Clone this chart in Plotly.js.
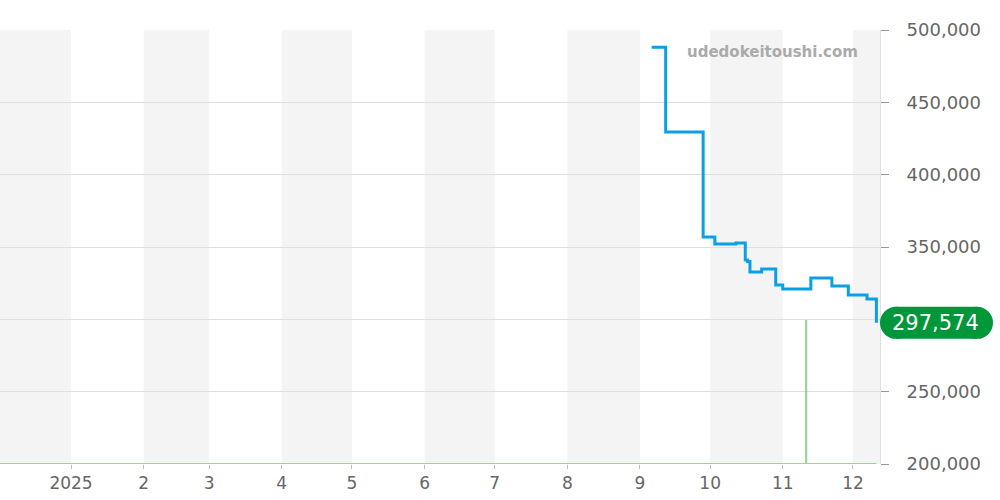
<!DOCTYPE html>
<html>
<head>
<meta charset="utf-8">
<script src="https://cdn.plot.ly/plotly-3.0.1.min.js"></script>
<style>html,body{margin:0;padding:0;background:#fff}#chart{width:1000px;height:500px}</style>
</head>
<body>
<div id="chart"></div>
<script>
// Price series (stepwise)
var priceDates = ['2025-09-06','2025-09-12','2025-09-28','2025-10-03','2025-10-12','2025-10-16','2025-10-17','2025-10-18','2025-10-23','2025-10-29','2025-11-01','2025-11-13','2025-11-22','2025-11-29','2025-12-07','2025-12-11'];
var priceValues = [488000, 429500, 356900, 352100, 352800, 341000, 340000, 332700, 334800, 323700, 321000, 328600, 323000, 316800, 314000, 297574];

// Secondary (green) series along the floor
var floorDates = ['2024-12-01','2025-11-11','2025-11-11','2025-11-11','2025-12-11'];
var floorValues = [200000, 200000, 299500, 200000, 200000];

// Month ticks
var tickDates = ['2025-01-01','2025-02-01','2025-03-01','2025-04-01','2025-05-01','2025-06-01','2025-07-01','2025-08-01','2025-09-01','2025-10-01','2025-11-01','2025-12-01'];
var tickLabels = ['2025','2','3','4','5','6','7','8','9','10','11','12'];

// Shaded months (start, end)
var bandStarts = ['2024-12-01','2025-02-01','2025-04-01','2025-06-01','2025-08-01','2025-10-01','2025-12-01'];
var bandEnds   = ['2025-01-01','2025-03-01','2025-05-01','2025-07-01','2025-09-01','2025-11-01','2026-01-01'];

// Y ticks (the 300,000 label is covered by the last-value badge in the original)
var yTicks = [200000, 250000, 300000, 350000, 400000, 450000, 500000];
var yTickLabels = ['200,000', '250,000', '', '350,000', '400,000', '450,000', '500,000'];
var lastValue = priceValues[priceValues.length - 1];

var yMin = 200000, yMax = 500000;
var plotW = 880, plotH = 434;

var shapes = bandStarts.map(function(s, i){
  return {type:'rect', xref:'x', yref:'paper', x0:s, x1:bandEnds[i], y0:0, y1:1,
          fillcolor:'#f4f4f4', line:{width:0}, layer:'below'};
});

// Rounded pill label for last value: a rect plus two circle caps
var cy = (lastValue - yMin) / (yMax - yMin);
var hh = 16 / plotH;
var left = 880 / plotW, right = 993 / plotW, r = 16 / plotW;
var pillColor = '#00963a';
shapes.push({type:'rect', xref:'paper', yref:'paper', x0:left + r, x1:right - r, y0:cy - hh, y1:cy + hh,
  fillcolor:pillColor, line:{width:0}, layer:'above'});
shapes.push({type:'circle', xref:'paper', yref:'paper', x0:left, x1:left + 2*r, y0:cy - hh, y1:cy + hh,
  fillcolor:pillColor, line:{width:0}, layer:'above'});
shapes.push({type:'circle', xref:'paper', yref:'paper', x0:right - 2*r, x1:right, y0:cy - hh, y1:cy + hh,
  fillcolor:pillColor, line:{width:0}, layer:'above'});

var traces = [
  {x: floorDates, y: floorValues, type:'scatter', mode:'lines',
   line:{color:'rgba(120,200,120,0.75)', width:2.2}, hoverinfo:'skip'},
  {x: priceDates, y: priceValues, type:'scatter', mode:'lines',
   line:{color:'#0aa0e6', width:3, shape:'hv'}, cliponaxis:false}
];

var layout = {
  width:1000, height:500,
  margin:{l:0, r:120, t:30, b:36},
  paper_bgcolor:'#fff', plot_bgcolor:'rgba(0,0,0,0)',
  showlegend:false,
  font:{family:'DejaVu Sans, sans-serif', color:'#666', size:17},
  xaxis:{type:'date', range:['2024-12-01 16:00','2025-12-12 13:00'],
    tickvals:tickDates, ticktext:tickLabels, ticks:'outside', ticklen:4, tickcolor:'#bbb',
    showgrid:false, zeroline:false, showline:false, tickfont:{size:17, color:'#666'}},
  yaxis:{range:[yMin, yMax], side:'right', tickvals:yTicks, ticktext:yTickLabels,
    ticks:'outside', ticklen:8, tickcolor:'#999', showgrid:true, gridcolor:'#dedede',
    ticklabelstandoff:14,
    zeroline:false, showline:true, linecolor:'#e0e0e0', tickfont:{size:18, color:'#666'}},
  shapes: shapes,
  annotations:[
    {xref:'paper', yref:'paper', x:(935/plotW), y:cy, text:lastValue.toLocaleString('en-US'),
     showarrow:false, font:{size:21, color:'#fff'}, xanchor:'center', yanchor:'middle'},
    {xref:'paper', yref:'paper', x:(772/plotW), y:(464-52)/plotH, text:'<b>udedokeitoushi.com</b>',
     showarrow:false, font:{size:15, color:'#aaa'}, xanchor:'center', yanchor:'middle'}
  ]
};

Plotly.newPlot('chart', traces, layout, {displayModeBar:false, staticPlot:true});
</script>
</body>
</html>
